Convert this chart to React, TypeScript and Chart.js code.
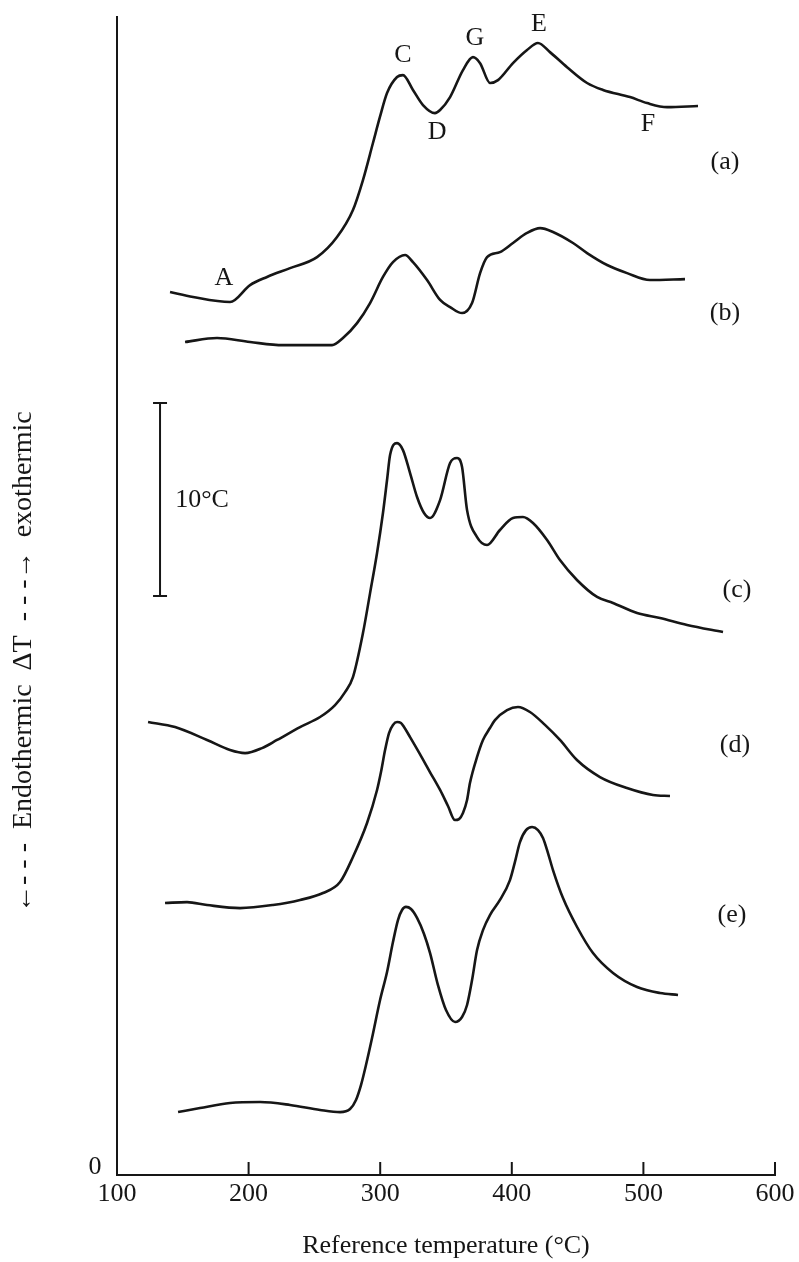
import React, { useEffect, useRef } from 'react';
import { Chart, registerables } from 'chart.js';

Chart.register(...registerables);

// ---- data: reference temperature (°C) and ΔT trace value (°C, traces offset vertically) ----
const tA = [140.3, 157.8, 185.9, 201.1, 214.0, 231.5, 252.0, 267.2, 279.3, 286.9, 294.5, 299.8, 305.2, 312.8, 317.3, 324.9, 332.5, 341.6, 345.5, 353.1, 362.9, 370.5, 375.9, 383.5, 389.5, 400.9, 411.6, 419.9, 429.0, 442.0, 457.2, 469.3, 489.8, 502.8, 518.0, 541.5];
const dA = [45.75, 45.49, 45.23, 46.11, 46.53, 46.99, 47.56, 48.6, 50.0, 51.55, 53.47, 54.82, 56.06, 56.89, 56.99, 56.22, 55.44, 55.02, 55.18, 55.85, 57.25, 57.92, 57.61, 56.58, 56.73, 57.61, 58.29, 58.65, 58.18, 57.4, 56.58, 56.22, 55.85, 55.54, 55.33, 55.39];

const tB = [151.7, 176.0, 201.1, 226.2, 246.7, 263.4, 271.7, 282.4, 292.3, 302.1, 309.7, 318.9, 324.9, 335.6, 345.5, 353.1, 362.2, 369.8, 375.9, 381.2, 391.0, 400.9, 411.6, 421.5, 431.3, 446.5, 457.2, 472.4, 487.6, 505.0, 531.6];
const dB = [43.16, 43.37, 43.16, 43.0, 43.0, 43.0, 43.37, 44.14, 45.18, 46.53, 47.3, 47.67, 47.3, 46.37, 45.34, 44.97, 44.66, 45.18, 46.73, 47.56, 47.82, 48.29, 48.81, 49.06, 48.86, 48.29, 47.77, 47.15, 46.73, 46.37, 46.42];

const tC = [123.6, 144.1, 168.4, 185.9, 197.3, 210.2, 221.6, 239.1, 254.3, 265.7, 273.3, 279.3, 286.9, 292.3, 297.6, 302.1, 305.2, 307.5, 312.8, 317.3, 322.7, 328.0, 333.3, 337.9, 345.5, 353.1, 358.4, 362.2, 366.0, 373.6, 381.2, 391.0, 400.9, 408.5, 416.1, 426.8, 436.6, 449.5, 464.8, 476.9, 495.2, 512.6, 533.2, 560.5];
const dC = [23.47, 23.21, 22.54, 22.02, 21.86, 22.12, 22.54, 23.21, 23.73, 24.35, 25.02, 25.8, 28.08, 30.15, 32.23, 34.3, 36.01, 37.3, 37.92, 37.56, 36.37, 35.13, 34.3, 34.04, 34.97, 36.89, 37.15, 36.68, 34.45, 33.05, 32.64, 33.42, 34.04, 34.09, 33.78, 32.9, 31.86, 30.83, 29.95, 29.64, 29.12, 28.86, 28.5, 28.13];

const tD = [136.5, 153.2, 168.4, 193.5, 218.5, 239.1, 256.5, 269.5, 279.3, 290.0, 297.6, 300.6, 303.7, 306.7, 309.7, 312.8, 315.8, 318.1, 322.7, 330.2, 337.8, 345.5, 351.5, 356.8, 359.9, 362.9, 366.0, 368.2, 373.6, 378.1, 383.4, 387.2, 396.4, 404.7, 413.8, 425.2, 436.6, 449.5, 467.0, 487.5, 507.3, 520.2];
const dD = [14.09, 14.14, 13.99, 13.83, 13.99, 14.25, 14.61, 15.18, 16.48, 18.24, 19.95, 20.88, 22.02, 22.9, 23.32, 23.47, 23.42, 23.21, 22.69, 21.81, 20.88, 19.95, 19.12, 18.39, 18.44, 18.76, 19.43, 20.31, 21.66, 22.54, 23.16, 23.57, 24.09, 24.25, 23.99, 23.32, 22.54, 21.5, 20.62, 20.05, 19.69, 19.64];

const tE = [146.4, 163.1, 185.9, 208.7, 231.5, 254.3, 269.5, 277.1, 281.6, 285.4, 289.2, 293.8, 299.9, 305.2, 309.7, 313.5, 316.6, 319.6, 323.4, 328.0, 333.3, 337.9, 343.9, 350.0, 356.9, 362.2, 366.0, 369.8, 373.6, 378.1, 383.4, 391.0, 398.6, 402.4, 406.2, 410.8, 415.4, 419.9, 423.7, 427.5, 431.3, 438.9, 449.6, 461.7, 476.9, 495.2, 512.6, 526.3];
const dE = [3.26, 3.47, 3.73, 3.78, 3.63, 3.37, 3.26, 3.42, 3.89, 4.66, 5.7, 7.1, 9.07, 10.52, 12.07, 13.21, 13.73, 13.89, 13.78, 13.32, 12.49, 11.5, 9.84, 8.55, 7.93, 8.19, 8.81, 10.1, 11.66, 12.69, 13.47, 14.25, 15.28, 16.22, 17.25, 17.87, 18.03, 17.87, 17.46, 16.68, 15.8, 14.35, 12.85, 11.5, 10.47, 9.74, 9.43, 9.33];

// 10 °C scale bar
const SCALE_BAR_T = 132.7;
const SCALE_BAR_DT = [30, 40];

// axis
const X_TICKS = [100, 200, 300, 400, 500, 600];
const X_TITLE = 'Reference temperature (°C)';
const Y_TITLE = '←- - -  Endothermic  ΔT  - - -→  exothermic';

// annotations
const LABEL_TEXT = ['A', 'C', 'D', 'G', 'E', 'F', '(a)', '(b)', '(c)', '(d)', '(e)', '10°C'];
const LABEL_T = [181.3, 317.3, 343.2, 372.0, 420.7, 503.5, 562.0, 562.0, 571.1, 569.6, 567.3, 164.6];
const LABEL_DT = [46.48, 58.03, 54.04, 58.91, 59.64, 54.46, 52.49, 44.66, 30.31, 22.28, 13.47, 34.97];

const INK = '#161616';
const SERIF = '"Liberation Serif", "Times New Roman", serif';

const toPts = (t: number[], d: number[]) => t.map((x, i) => ({ x, y: d[i] }));

const annotate = {
  id: 'annotate',
  afterDraw(chart: any) {
    const { ctx, chartArea } = chart;
    const xs = chart.scales.x;
    const ys = chart.scales.y;
    ctx.save();
    ctx.strokeStyle = INK;
    ctx.fillStyle = INK;
    ctx.lineWidth = 2;
    // inward tick marks
    X_TICKS.slice(1).forEach((v) => {
      const px = xs.getPixelForValue(v);
      ctx.beginPath();
      ctx.moveTo(px, chartArea.bottom);
      ctx.lineTo(px, chartArea.bottom - 13);
      ctx.stroke();
    });
    // text labels
    ctx.font = `26px ${SERIF}`;
    ctx.textAlign = 'center';
    ctx.textBaseline = 'middle';
    LABEL_TEXT.forEach((t, i) => {
      ctx.fillText(t, xs.getPixelForValue(LABEL_T[i]), ys.getPixelForValue(LABEL_DT[i]));
    });
    // origin label
    ctx.fillText('0', chartArea.left - 22, ys.getPixelForValue(0) - 8);
    // y title
    ctx.font = `28px ${SERIF}`;
    ctx.translate(24, chartArea.bottom - 262);
    ctx.rotate(-Math.PI / 2);
    ctx.textAlign = 'left';
    ctx.fillText(Y_TITLE, 0, 0);
    ctx.restore();
  },
};

export default function App() {
  const ref = useRef<HTMLCanvasElement>(null);
  useEffect(() => {
    const curve = (t: number[], d: number[]) => ({
      data: toPts(t, d),
      showLine: true,
      borderColor: INK,
      borderWidth: 2.6,
      pointRadius: 0,
      cubicInterpolationMode: 'monotone' as const,
    });
    const chart = new Chart(ref.current as HTMLCanvasElement, {
      type: 'scatter',
      data: {
        datasets: [
          curve(tA, dA),
          curve(tB, dB),
          curve(tC, dC),
          curve(tD, dD),
          curve(tE, dE),
          {
            data: SCALE_BAR_DT.map((y) => ({ x: SCALE_BAR_T, y })),
            showLine: true,
            borderColor: INK,
            borderWidth: 2,
            tension: 0,
            pointStyle: 'line',
            pointRadius: 7,
            pointBorderWidth: 2,
            pointBorderColor: INK,
          } as any,
        ],
      },
      options: {
        responsive: false,
        animation: false,
        events: [],
        devicePixelRatio: 1,
        layout: { padding: { top: 17, right: 24, bottom: 0, left: 0 } },
        plugins: { legend: { display: false }, tooltip: { enabled: false } },
        scales: {
          x: {
            type: 'linear',
            min: 100,
            max: 600,
            ticks: {
              stepSize: 100,
              color: INK,
              font: { family: SERIF, size: 26 },
              padding: 4,
              maxRotation: 0,
              autoSkip: false,
            },
            grid: { display: false, drawTicks: false },
            border: { display: true, color: INK, width: 2 },
            title: {
              display: true,
              text: X_TITLE,
              color: INK,
              font: { family: SERIF, size: 26 },
              padding: { top: 0, bottom: 0 },
            },
            afterFit: (s: any) => {
              s.height = 87;
            },
          },
          y: {
            type: 'linear',
            min: 0,
            max: 60,
            ticks: { display: false },
            grid: { display: false, drawTicks: false },
            border: { display: true, color: INK, width: 2 },
            afterFit: (s: any) => {
              s.width = 117;
            },
          },
        },
      },
      plugins: [annotate],
    });
    return () => chart.destroy();
  }, []);
  return (
    <div style={{ position: 'fixed', left: 0, top: 0, width: 799, height: 1262, background: '#fff' }}>
      <canvas ref={ref} width={799} height={1262} style={{ display: 'block', width: 799, height: 1262 }} />
    </div>
  );
}
